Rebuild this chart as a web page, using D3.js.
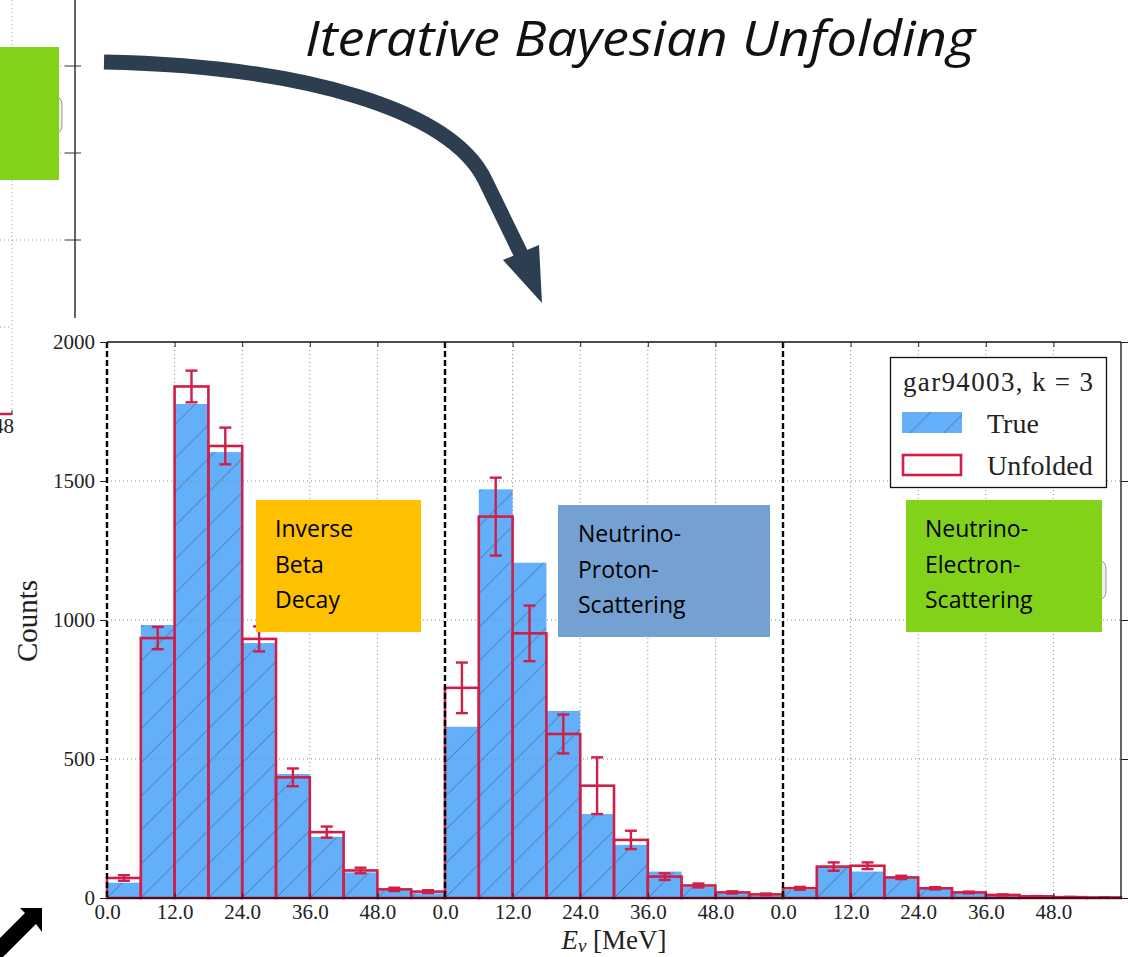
<!DOCTYPE html>
<html>
<head>
<meta charset="utf-8">
<script src="https://cdn.jsdelivr.net/npm/d3@7"></script>
<style>
  html, body { margin: 0; padding: 0; background: #fff; }
  svg { display: block; }
</style>
</head>
<body>
<svg id="chart" width="1128" height="957"></svg>
<script>
// ---- data -------------------------------------------------------------
// three reaction channels, each histogrammed in 6 MeV bins from 0 to 60 MeV
const channels = ["Inverse Beta Decay", "Neutrino-Proton-Scattering", "Neutrino-Electron-Scattering"];
const binLowEdges = [0, 6, 12, 18, 24, 30, 36, 42, 48, 54];
const binWidth = 6;
const channelSpan = 60;

const trueIBD = [55, 982, 1777, 1604, 917, 446, 220, 92, 28, 17];
const unfoldedIBD = [72, 935, 1840, 1626, 932, 434, 237, 99, 31, 23];
const errorIBD = [10, 40, 57, 66, 45, 32, 20, 10, 6, 5];

const trueNP = [616, 1470, 1206, 673, 302, 191, 95, 40, 16, 10];
const unfoldedNP = [756, 1372, 952, 590, 404, 209, 77, 45, 20, 13];
const errorNP = [91, 140, 100, 70, 102, 33, 12, 7, 4, 3];

const trueNE = [29, 112, 95, 72, 33, 17, 8, 4, 2, 1];
const unfoldedNE = [35, 113, 116, 74, 35, 20, 11, 6, 3, 2];
const errorNE = [5, 15, 12, 6, 4, 3, 2, 1, 1, 1];

const xTickValues = [0, 12, 24, 36, 48];
const xTickLabels = ["0.0", "12.0", "24.0", "36.0", "48.0"];
const yTickValues = [0, 500, 1000, 1500, 2000];

const legendTitle = "gar94003, k = 3";
const legendLabels = ["True", "Unfolded"];

const channelBoxLines = [
  ["Inverse", "Beta", "Decay"],
  ["Neutrino-", "Proton-", "Scattering"],
  ["Neutrino-", "Electron-", "Scattering"]
];
const titleText = "Iterative Bayesian Unfolding";

// ---- styling ---------------------------------------------------------
const BLUE = "#63aff9";
const HATCH = "#46638c";
const RED = "#cf1f48";
const SERIF = "'Liberation Serif', 'DejaVu Serif', serif";
const SANS = "'Open Sans', 'Noto Sans', sans-serif";

const svg = d3.select("#chart");
svg.append("rect").attr("width", 1128).attr("height", 957).attr("fill", "#fff");

const plot = { left: 107, right: 1121, top: 342, bottom: 898 };

const x = d3.scaleLinear().domain([0, channelSpan * channels.length]).range([plot.left, plot.right]);
const y = d3.scaleLinear().domain([0, 2000]).range([plot.bottom, plot.top]);

// hatch pattern for the "True" histogram
const binPx = x(binWidth) - x(0);
const defs = svg.append("defs");
const pat = defs.append("pattern")
  .attr("id", "hatch")
  .attr("patternUnits", "userSpaceOnUse")
  .attr("x", plot.left).attr("y", plot.bottom)
  .attr("width", binPx).attr("height", binPx);
pat.append("rect").attr("width", binPx).attr("height", binPx).attr("fill", BLUE);
pat.append("path")
  .attr("d", `M0,${binPx} L${binPx},0 M${-binPx / 2},${binPx / 2} L${binPx / 2},${-binPx / 2} M${binPx / 2},${binPx * 1.5} L${binPx * 1.5},${binPx / 2}`)
  .attr("stroke", HATCH).attr("stroke-width", 0.9).attr("stroke-opacity", 0.85);

// ---- background: edge of a neighbouring panel (top-left) -------------------
const bg = svg.append("g").attr("class", "neighbour-panel");
const bgTicks = [66, 153, 240];
bg.append("line").attr("x1", 75).attr("x2", 75).attr("y1", 0).attr("y2", 318)
  .attr("stroke", "#111").attr("stroke-width", 1.3);
bgTicks.forEach(ty => {
  bg.append("line").attr("x1", 0).attr("x2", 65).attr("y1", ty).attr("y2", ty)
    .attr("stroke", "#999").attr("stroke-width", 1).attr("stroke-dasharray", "1,3");
  bg.append("line").attr("x1", 65).attr("x2", 81).attr("y1", ty).attr("y2", ty)
    .attr("stroke", "#333").attr("stroke-width", 1);
});
bg.append("line").attr("x1", 12).attr("x2", 12).attr("y1", 0).attr("y2", 413)
  .attr("stroke", "#999").attr("stroke-width", 1).attr("stroke-dasharray", "1,3");
bg.append("line").attr("x1", 0).attr("x2", 12).attr("y1", 327).attr("y2", 327)
  .attr("stroke", "#999").attr("stroke-width", 1).attr("stroke-dasharray", "1,3");
bg.append("line").attr("x1", 0).attr("x2", 12).attr("y1", 414).attr("y2", 414)
  .attr("stroke", RED).attr("stroke-width", 2.5);
bg.append("line").attr("x1", 12).attr("x2", 12).attr("y1", 410).attr("y2", 415)
  .attr("stroke", "#333").attr("stroke-width", 1);
bg.append("text").attr("x", 14).attr("y", 433).attr("text-anchor", "end")
  .attr("font-family", SERIF).attr("font-size", 21).attr("fill", "#222").text("48");
// rounded shape peeking out behind the green box
bg.append("rect").attr("x", 20).attr("y", 96).attr("width", 42).attr("height", 38).attr("rx", 8)
  .attr("fill", "#eee").attr("stroke", "#999").attr("stroke-width", 1);
bg.append("rect").attr("x", 0).attr("y", 47).attr("width", 59).attr("height", 133).attr("fill", "#83d21a");

// ---- main histogram -----------------------------------------------------
const main = svg.append("g").attr("class", "main-plot");

const bins = [];
[[trueIBD, unfoldedIBD, errorIBD], [trueNP, unfoldedNP, errorNP], [trueNE, unfoldedNE, errorNE]]
  .forEach(([tv, uv, ev], c) => {
    binLowEdges.forEach((e, i) => {
      bins.push({ x0: c * channelSpan + e, x1: c * channelSpan + e + binWidth, t: tv[i], u: uv[i], err: ev[i] });
    });
  });

// true histogram (filled + hatched)
main.selectAll("rect.true").data(bins).join("rect")
  .attr("class", "true")
  .attr("x", d => x(d.x0)).attr("width", d => x(d.x1) - x(d.x0))
  .attr("y", d => y(d.t)).attr("height", d => y(0) - y(d.t))
  .attr("fill", "url(#hatch)");

// grid
const grid = main.append("g").attr("class", "grid");
yTickValues.filter(v => v > 0 && v < 2000).forEach(v => {
  grid.append("line").attr("x1", plot.left).attr("x2", plot.right).attr("y1", y(v)).attr("y2", y(v))
    .attr("stroke", "#8a8a8a").attr("stroke-width", 1).attr("stroke-dasharray", "1,3");
});
channels.forEach((_, c) => {
  xTickValues.filter(v => v > 0).forEach(v => {
    const px = x(c * channelSpan + v);
    grid.append("line").attr("x1", px).attr("x2", px).attr("y1", plot.top).attr("y2", plot.bottom)
      .attr("stroke", "#8a8a8a").attr("stroke-width", 1).attr("stroke-dasharray", "1,3");
  });
});

// unfolded histogram (outlined bins)
main.selectAll("rect.unfolded").data(bins).join("rect")
  .attr("class", "unfolded")
  .attr("x", d => x(d.x0)).attr("width", d => x(d.x1) - x(d.x0))
  .attr("y", d => y(d.u)).attr("height", d => y(0) - y(d.u))
  .attr("fill", "none").attr("stroke", RED).attr("stroke-width", 2.6);

// error bars
const eb = main.selectAll("g.err").data(bins).join("g").attr("class", "err")
  .attr("stroke", RED).attr("stroke-width", 2.4);
eb.append("line")
  .attr("x1", d => x((d.x0 + d.x1) / 2)).attr("x2", d => x((d.x0 + d.x1) / 2))
  .attr("y1", d => y(d.u - d.err)).attr("y2", d => y(d.u + d.err));
eb.append("line")
  .attr("x1", d => x((d.x0 + d.x1) / 2) - 6).attr("x2", d => x((d.x0 + d.x1) / 2) + 6)
  .attr("y1", d => y(d.u - d.err)).attr("y2", d => y(d.u - d.err));
eb.append("line")
  .attr("x1", d => x((d.x0 + d.x1) / 2) - 6).attr("x2", d => x((d.x0 + d.x1) / 2) + 6)
  .attr("y1", d => y(d.u + d.err)).attr("y2", d => y(d.u + d.err));

// channel separators
channels.forEach((_, c) => {
  const px = x(c * channelSpan);
  main.append("line").attr("x1", px).attr("x2", px).attr("y1", plot.top).attr("y2", plot.bottom)
    .attr("stroke", "#000").attr("stroke-width", 2.4).attr("stroke-dasharray", "6,3");
});

// spines
main.append("line").attr("x1", plot.left).attr("x2", plot.right).attr("y1", plot.top).attr("y2", plot.top)
  .attr("stroke", "#111").attr("stroke-width", 1.3);
main.append("line").attr("x1", plot.left).attr("x2", plot.right).attr("y1", plot.bottom).attr("y2", plot.bottom)
  .attr("stroke", "#111").attr("stroke-width", 1.3);
main.append("line").attr("x1", plot.right).attr("x2", plot.right).attr("y1", plot.top).attr("y2", plot.bottom)
  .attr("stroke", "#111").attr("stroke-width", 1.3);

// axes
const allXTicks = [];
channels.forEach((_, c) => xTickValues.forEach((v, i) => allXTicks.push({ v: c * channelSpan + v, label: xTickLabels[i] })));
const labelFor = new Map(allXTicks.map(t => [t.v, t.label]));

const xAxis = d3.axisBottom(x).tickValues(allXTicks.map(t => t.v))
  .tickFormat(v => labelFor.get(v)).tickSizeInner(-5).tickSizeOuter(0).tickPadding(6);
const gx = main.append("g").attr("transform", `translate(0,${plot.bottom})`).call(xAxis);
const xTop = d3.axisTop(x).tickValues(allXTicks.map(t => t.v)).tickFormat("").tickSizeInner(-5).tickSizeOuter(0);
const gxt = main.append("g").attr("transform", `translate(0,${plot.top})`).call(xTop);

const yAxis = d3.axisLeft(y).tickValues(yTickValues).tickFormat(d3.format("d")).tickSizeInner(7).tickSizeOuter(0).tickPadding(4);
const gy = main.append("g").attr("transform", `translate(${plot.left},0)`).call(yAxis);
const yRight = d3.axisRight(y).tickValues(yTickValues).tickFormat("").tickSizeInner(7).tickSizeOuter(0);
const gyr = main.append("g").attr("transform", `translate(${plot.right},0)`).call(yRight);

[gx, gxt, gy, gyr].forEach(g => {
  g.select(".domain").remove();
  g.selectAll(".tick line").attr("stroke", "#222").attr("stroke-width", 1);
  g.selectAll(".tick text").attr("font-family", SERIF).attr("font-size", 21).attr("fill", "#222");
});
gy.selectAll(".tick text").attr("dx", "-1");

// axis titles
main.append("text")
  .attr("transform", `translate(37,${(plot.top + plot.bottom) / 2 + 1}) rotate(-90)`)
  .attr("text-anchor", "middle").attr("font-family", SERIF).attr("font-size", 29).attr("fill", "#222")
  .text("Counts");
const xl = main.append("text").attr("x", 614).attr("y", 949).attr("text-anchor", "middle")
  .attr("font-family", SERIF).attr("font-size", 27).attr("fill", "#222");
xl.append("tspan").attr("font-style", "italic").text("E");
xl.append("tspan").attr("font-style", "italic").attr("font-size", 19).attr("dy", 3).text("ν");
xl.append("tspan").attr("dy", -3).text(" [MeV]");

// legend
const lg = main.append("g").attr("class", "legend");
lg.append("rect").attr("x", 890.5).attr("y", 357.5).attr("width", 216).attr("height", 130)
  .attr("fill", "#fff").attr("stroke", "#111").attr("stroke-width", 1.3);
lg.append("text").attr("x", 998).attr("y", 391).attr("text-anchor", "middle")
  .attr("font-family", SERIF).attr("font-size", 27).attr("fill", "#222")
  .attr("textLength", 190).attr("lengthAdjust", "spacing").text(legendTitle);
lg.append("rect").attr("x", 902).attr("y", 412).attr("width", 60).attr("height", 21).attr("fill", "url(#hatch)");
lg.append("rect").attr("x", 903).attr("y", 455).attr("width", 58).attr("height", 20)
  .attr("fill", "none").attr("stroke", RED).attr("stroke-width", 2.6);
lg.append("text").attr("x", 987).attr("y", 433).attr("font-family", SERIF).attr("font-size", 28).attr("fill", "#222").text(legendLabels[0]);
lg.append("text").attr("x", 987).attr("y", 475).attr("font-family", SERIF).attr("font-size", 28).attr("fill", "#222").text(legendLabels[1]);

// ---- channel labels -----------------------------------------------------
const boxes = [
  { x: 256, y: 500, w: 165, h: 132, fill: "#ffc000", tx: 275, ty: 537 },
  { x: 558, y: 505, w: 212, h: 132, fill: "#75a0d2", tx: 578, ty: 542 },
  { x: 906, y: 500, w: 196, h: 132, fill: "#83d21a", tx: 925, ty: 537 }
];
// rounded shape behind the right-hand green box
svg.append("rect").attr("x", 1064).attr("y", 560).attr("width", 42).attr("height", 40).attr("rx", 8)
  .attr("fill", "#eee").attr("stroke", "#999").attr("stroke-width", 1);
boxes.forEach((b, i) => {
  svg.append("rect").attr("x", b.x).attr("y", b.y).attr("width", b.w).attr("height", b.h).attr("fill", b.fill);
  const t = svg.append("text").attr("font-family", SANS).attr("font-size", 23).attr("fill", "#000");
  channelBoxLines[i].forEach((line, j) => {
    t.append("tspan").attr("x", b.tx).attr("y", b.ty + j * 35.5).text(line);
  });
});

// ---- title and arrows -----------------------------------------------------
svg.append("text").attr("x", 305).attr("y", 56)
  .attr("font-family", SANS).attr("font-style", "italic").attr("font-weight", 400).attr("font-size", 50)
  .attr("fill", "#111").attr("textLength", 670).attr("lengthAdjust", "spacingAndGlyphs")
  .text(titleText);

svg.append("path")
  .attr("d", "M104,62 C304,66 451,110 485,180 L521,254")
  .attr("fill", "none").attr("stroke", "#2c3e50").attr("stroke-width", 15);
svg.append("path")
  .attr("d", "M503,260 L539,245 L542,303 Z")
  .attr("fill", "#2c3e50");

svg.append("path")
  .attr("d", "M20,908 L42,908 L42,932 L36,924 L-4,964 L-15,953 L25,913 Z")
  .attr("fill", "#000");
</script>
</body>
</html>
